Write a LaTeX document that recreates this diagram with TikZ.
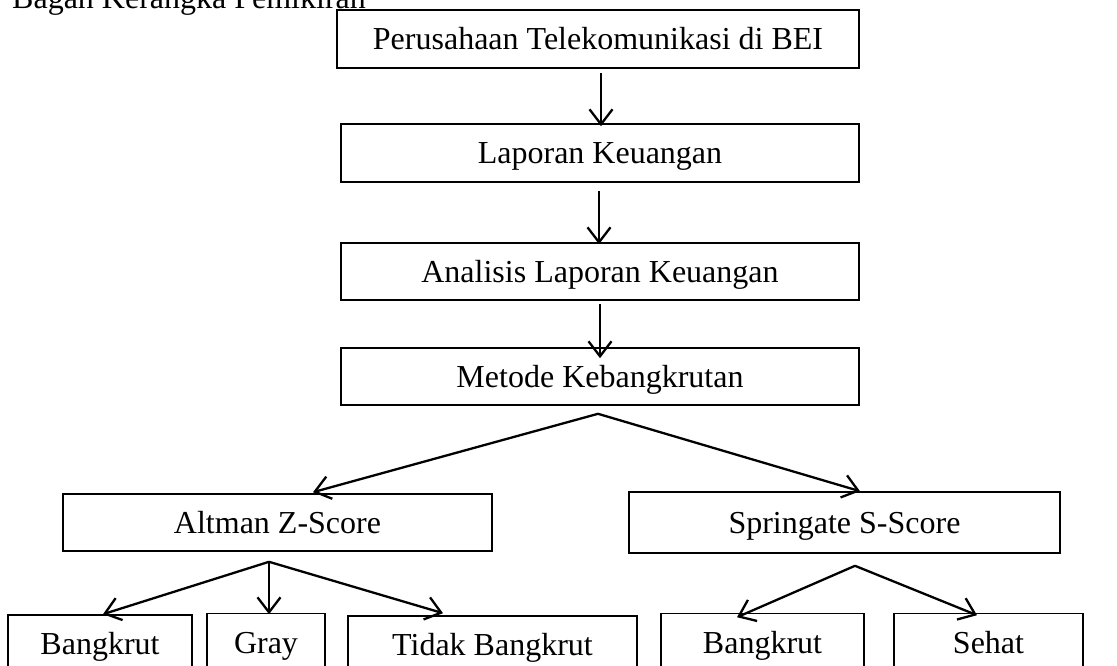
\documentclass[tikz,border=0pt]{standalone}
\usepackage{fontspec}
\setmainfont{Liberation Serif}
\usetikzlibrary{arrows.meta}
\begin{document}
\begin{tikzpicture}[x=1pt,y=-1pt,
  box/.style={draw=black, line width=1.6pt, rectangle, inner sep=0pt,
    text height=22pt, text depth=0pt, font=\fontsize{32}{38}\selectfont},
  conn/.style={line width=2.3pt, -{Straight Barb[length=15pt,width=23pt,line width=2.3pt]}},
  lbl/.style={inner sep=0pt, font=\fontsize{32}{38}\selectfont},
]
\useasboundingbox (0,0) rectangle (1117,666);
\clip (0,0) rectangle (1117,666);

\node[lbl, anchor=base west] (title) at (12,9) {Bagan Kerangka Pemikiran};

\node[box, minimum width=522pt, minimum height=58pt] (b1) at (598,39) {Perusahaan Telekomunikasi di BEI};
\node[box, minimum width=518pt, minimum height=58pt] (b2) at (600,153) {Laporan Keuangan};
\node[box, minimum width=518pt, minimum height=57pt] (b3) at (600,271.5) {Analisis Laporan Keuangan};
\node[box, minimum width=518pt, minimum height=57pt] (b4) at (600,376.5) {Metode Kebangkrutan};

\node[box, minimum width=429pt, minimum height=57pt] (alt) at (277.5,522.5) {Altman Z-Score};
\node[box, minimum width=431pt, minimum height=61pt] (spr) at (844.5,522.5) {Springate S-Score};

\node[box, minimum width=184pt, minimum height=57pt] (bk1) at (100,643.5) {Bangkrut};
\node[box, minimum width=118pt, minimum height=57pt] (gray) at (266,642) {Gray};
\node[box, minimum width=289pt, minimum height=57pt] (tb) at (492.5,644.5) {Tidak Bangkrut};
\node[box, minimum width=203pt, minimum height=57pt] (bk2) at (762.5,642) {Bangkrut};
\node[box, minimum width=189pt, minimum height=57pt] (seh) at (988.5,642) {Sehat};

\draw[conn] ([xshift=3pt,yshift=-4pt]b1.south) -- ([xshift=1pt,yshift=-3pt]b2.north);
\draw[conn] ([xshift=-1pt,yshift=-8pt]b2.south) -- ([xshift=-1pt,yshift=-2pt]b3.north);
\draw[conn] ([yshift=-3pt]b3.south) -- ([yshift=-11pt]b4.north);

\coordinate (s1) at ([xshift=-2pt,yshift=-8pt]b4.south);
\draw[conn] (s1) -- ([xshift=35.5pt,yshift=1pt]alt.north);
\draw[conn] (s1) -- ([xshift=15.5pt]spr.north);

\coordinate (s2) at ([xshift=-8.5pt,yshift=-10pt]alt.south);
\draw[conn] (s2) -- ([xshift=3pt]bk1.north);
\draw[conn] (s2) -- ([xshift=3pt,yshift=-1.5pt]gray.north);
\draw[conn] (s2) -- ([xshift=-49.5pt,yshift=2pt]tb.north);

\coordinate (s3) at ([xshift=10.5pt,yshift=-12pt]spr.south);
\draw[conn] (s3) -- ([xshift=-25.5pt,yshift=-4.5pt]bk2.north);
\draw[conn] (s3) -- ([xshift=-11.5pt,yshift=-2.5pt]seh.north);
\end{tikzpicture}
\end{document}
